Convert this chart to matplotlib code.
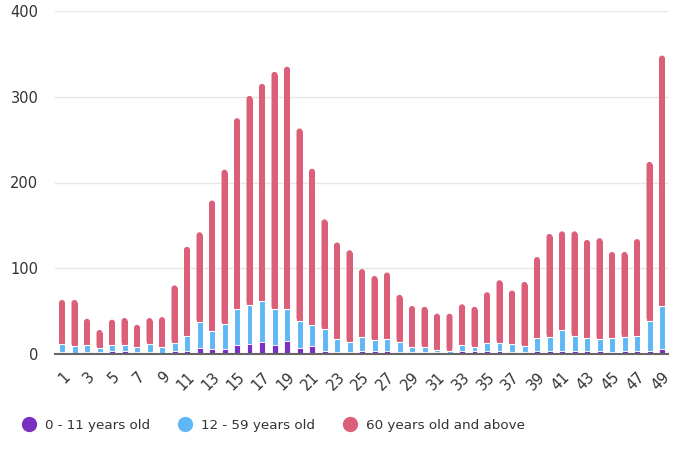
import matplotlib
matplotlib.use("Agg")
import matplotlib.pyplot as plt
from matplotlib.patches import FancyBboxPatch
from matplotlib.lines import Line2D
import numpy as np

categories = list(range(1, 50))
age_0_11 = [2, 1, 2, 2, 3, 4, 2, 2, 1, 3, 3, 7, 6, 6, 11, 12, 14, 11, 15, 7,
            9, 4, 2, 2, 4, 3, 4, 2, 2, 2, 2, 1, 3, 3, 3, 3, 2, 2, 3, 3,
            4, 3, 3, 3, 2, 3, 4, 4, 6]
age_12_59 = [10, 8, 8, 5, 7, 7, 6, 10, 7, 10, 18, 30, 21, 29, 41, 45, 48, 41, 37, 32,
             25, 25, 16, 12, 16, 13, 13, 12, 6, 6, 3, 3, 7, 5, 10, 10, 10, 7, 16, 17,
             24, 18, 16, 14, 17, 17, 17, 35, 50]
age_60_plus = [51, 54, 31, 21, 30, 31, 26, 30, 35, 67, 104, 105, 152, 180, 223, 244, 253, 277, 283, 224,
               182, 128, 112, 107, 79, 75, 78, 55, 48, 47, 42, 43, 48, 47, 59, 73, 62, 75, 94, 120,
               115, 122, 114, 118, 100, 99, 113, 185, 292]
series_names = ["0 - 11 years old", "12 - 59 years old", "60 years old and above"]
colors = ["#7A30C0", "#5FB7F5", "#DC5F7A"]
yticks = [0, 100, 200, 300, 400]

x = np.array(categories, dtype=float)
a = np.array(age_0_11, dtype=float)
b = np.array(age_12_59, dtype=float)
c = np.array(age_60_plus, dtype=float)

fig = plt.figure(figsize=(6.8, 4.53), dpi=100)
ax = fig.add_axes([55/680, 1 - 354/453, (668 - 55)/680, (354 - 11)/453])

width = 0.48
ax.set_xlim(0.44, 49.48)
ax.set_ylim(0, 400)

# rounded top of the pink segments
rx = 0.24
asp = 3.5 / 0.24
for xi, base, h in zip(x, a + b, c):
    ry = rx * asp
    ax.bar(xi, max(h - ry, 0), bottom=base, width=width, color=colors[2], zorder=2, linewidth=0)
    p = FancyBboxPatch((xi - width/2, base), width, h,
                       boxstyle=f"round,pad=0,rounding_size={rx}",
                       mutation_aspect=asp, facecolor=colors[2], edgecolor="none", zorder=2)
    ax.add_patch(p)
ax.bar(x, b, bottom=a, width=width, color=colors[1], edgecolor="white", linewidth=0.8, zorder=3)
ax.bar(x, a, width=width, color=colors[0], edgecolor="white", linewidth=0.6, zorder=4)

ax.set_yticks(yticks)
ax.yaxis.grid(True, color="#e6e6e6", linewidth=1)
ax.set_axisbelow(True)
for s in ["top", "right", "left"]:
    ax.spines[s].set_visible(False)
ax.spines["bottom"].set_color("#666666")
ax.spines["bottom"].set_linewidth(1.5)
ax.spines["bottom"].set_zorder(5)
ax.tick_params(axis="y", length=0, pad=12, labelsize=10.5, labelcolor="#333333")
ax.set_xticks(categories[::2])
ax.set_xticklabels([str(v) for v in categories[::2]], rotation=45, ha="right",
                   rotation_mode="anchor", fontsize=10.5, color="#333333")
ax.tick_params(axis="x", length=0, pad=11)

handles = [Line2D([0], [0], marker="o", linestyle="none", markersize=10,
                  markerfacecolor=col, markeredgecolor=col) for col in colors]
fig.legend(handles, series_names, loc="center left", bbox_to_anchor=(22/680, 1 - 425/453),
           ncol=3, frameon=False, fontsize=9.7, handlelength=1.0, handletextpad=0.7,
           columnspacing=2.1, borderpad=0, borderaxespad=0, labelcolor="#333333")

fig.savefig("out.png", dpi=100)
